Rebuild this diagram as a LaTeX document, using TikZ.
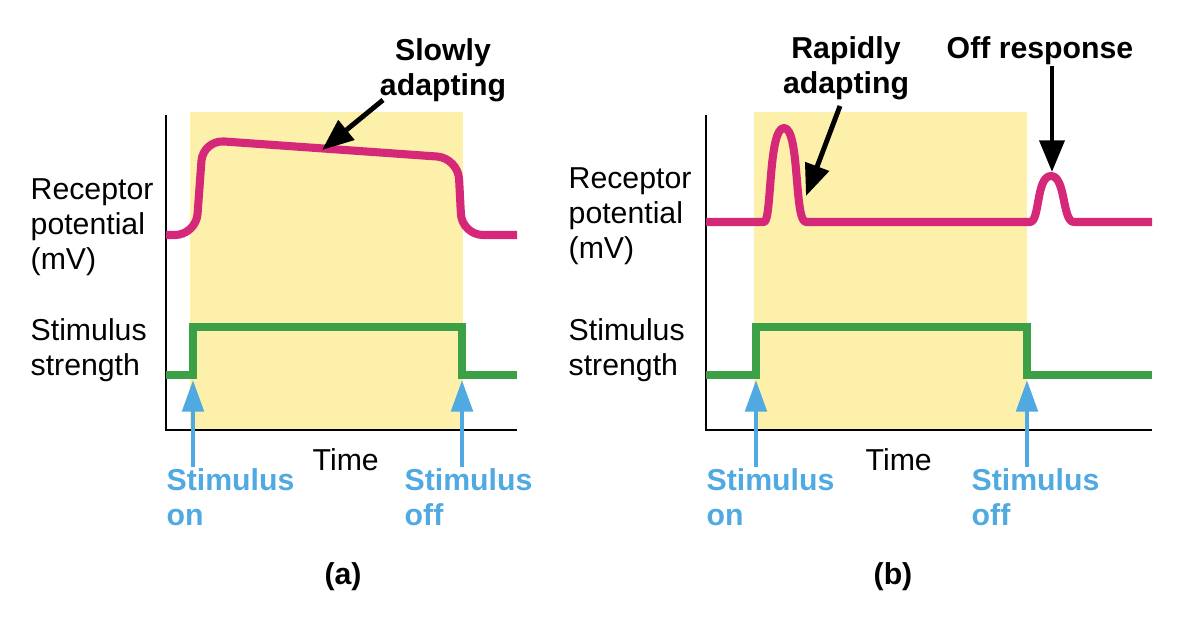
\documentclass[tikz,border=0pt]{standalone}
\usepackage{fontspec}
\setmainfont{Liberation Sans}
\usetikzlibrary{arrows.meta}

\definecolor{stimbg}{RGB}{253,240,170}
\definecolor{potpink}{RGB}{214,40,120}
\definecolor{stimgreen}{RGB}{60,160,70}
\definecolor{onblue}{RGB}{80,170,225}

\tikzset{
  axisline/.style={black, line width=0.6pt},
  potline/.style={potpink, line width=2.3pt, line join=round, rounded corners=6pt},
  spikeline/.style={potpink, line width=2.3pt, line join=round},
  stimline/.style={stimgreen, line width=2.3pt},
  markarrow/.style={onblue, line width=1.4pt, -{Triangle[length=9pt,width=6pt]}},
  callout/.style={black, line width=1.4pt, -{Triangle[length=9pt,width=7pt]}},
  lbl/.style={font=\fontsize{8.6}{10}\selectfont, align=left, anchor=north west, inner sep=0pt},
  bluelbl/.style={font=\fontsize{8.6}{10}\selectfont\bfseries, text=onblue, align=left, anchor=north west, inner sep=0pt},
  bold/.style={font=\fontsize{8.6}{10}\selectfont\bfseries, align=center, inner sep=0pt}
}

\begin{document}
\begin{tikzpicture}[x=0.01cm, y=-0.01cm]
  \useasboundingbox (0,0) rectangle (1184,634);

  % panel (a)
  \fill[stimbg] (190,112) rectangle (463,430);
  \draw[axisline] (166,115) -- (166,430) -- (517,430);
  \draw[potline] (166,235) -- (196,235) -- (203,140) -- (458,158) -- (462,235) -- (517,235);
  \draw[stimline] (166,375) -- (193,375) -- (193,327) -- (462,327) -- (462,375) -- (517,375);
  \node[lbl] (recA) at (30,178) {Receptor\\potential\\(mV)};
  \node[lbl] (stimA) at (30,318) {Stimulus\\strength};
  \node[bluelbl] (onA) at (166,468) {Stimulus\\on};
  \node[bluelbl] (offA) at (404,468) {Stimulus\\off};
  \coordinate (onAtip) at (193,380);
  \coordinate (offAtip) at (462,380);
  \draw[markarrow] (193,467) -- (onAtip);
  \draw[markarrow] (462,467) -- (offAtip);
  \node[lbl] (timeA) at (312,448) {Time};
  \node[bold] (capA) at (343,577) {(a)};
  \node[bold] (slow) at (443,70) {Slowly\\adapting};
  \coordinate (slowtip) at (322,150);
  \draw[callout] (383,100) -- (slowtip);

  % panel (b)
  \fill[stimbg] (754,112) rectangle (1027,430);
  \draw[axisline] (706,115) -- (706,430) -- (1152,430);
  \draw[spikeline] (706,222) -- (764,222) .. controls (772,222) and (768,128) .. (784,128)
    .. controls (800,128) and (794,222) .. (806,222)
    -- (1030,222) .. controls (1040,222) and (1036,176) .. (1051,176)
    .. controls (1066,176) and (1062,222) .. (1074,222) -- (1152,222);
  \draw[stimline] (706,375) -- (756,375) -- (756,327) -- (1027,327) -- (1027,375) -- (1152,375);
  \node[lbl] (recB) at (568,167) {Receptor\\potential\\(mV)};
  \node[lbl] (stimB) at (568,318) {Stimulus\\strength};
  \node[bluelbl] (onB) at (706,468) {Stimulus\\on};
  \node[bluelbl] (offB) at (971,468) {Stimulus\\off};
  \coordinate (onBtip) at (756,380);
  \coordinate (offBtip) at (1027,380);
  \draw[markarrow] (756,467) -- (onBtip);
  \draw[markarrow] (1027,467) -- (offBtip);
  \node[lbl] (timeB) at (865,448) {Time};
  \node[bold] (capB) at (893,577) {(b)};
  \node[bold] (rapid) at (846,68) {Rapidly\\adapting};
  \coordinate (rapidtip) at (806,196);
  \draw[callout] (840,106) -- (rapidtip);
  \node[bold] (offresp) at (1040,51) {Off response};
  \coordinate (offtip) at (1052,172);
  \draw[callout] (1052,66) -- (offtip);
\end{tikzpicture}
\end{document}
